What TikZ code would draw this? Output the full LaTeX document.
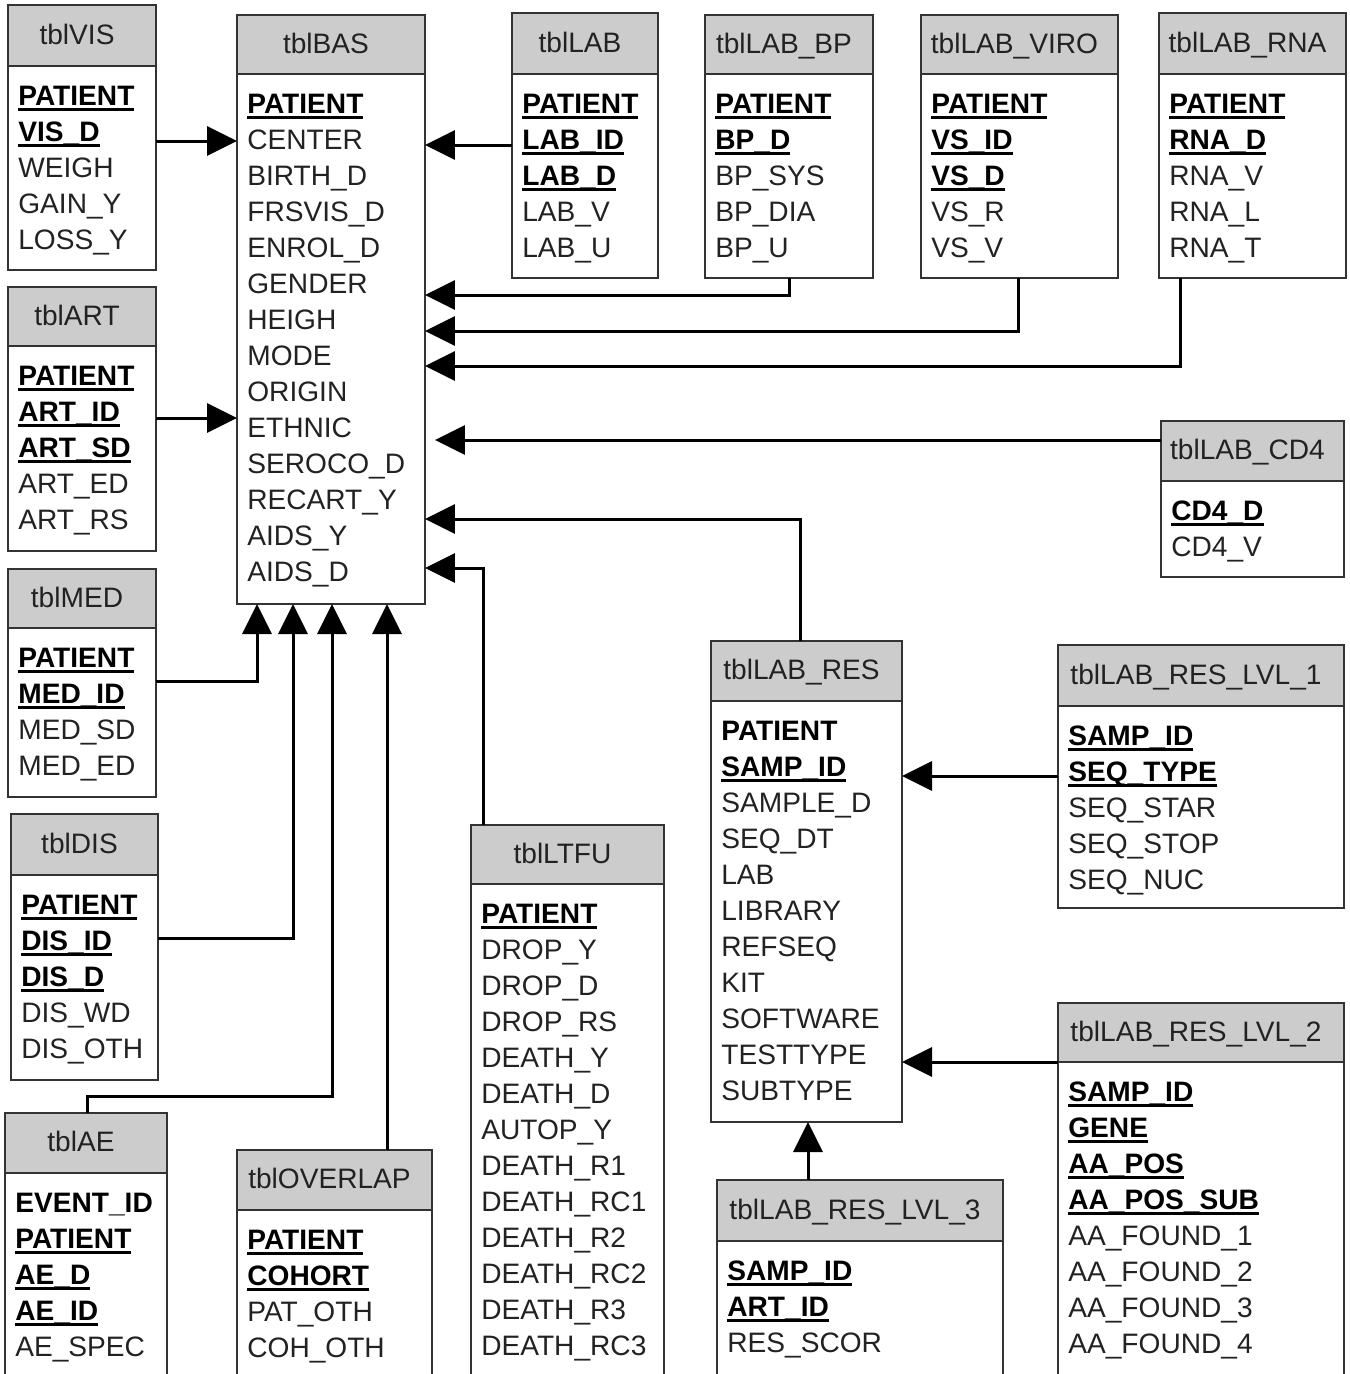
\documentclass[tikz,border=0pt]{standalone}
\usepackage{fontspec}
\setmainfont{Liberation Sans}
\usetikzlibrary{positioning,arrows.meta}
\definecolor{hdrgray}{RGB}{204,204,204}
\definecolor{boxline}{RGB}{51,51,51}
\definecolor{txtgray}{RGB}{34,34,34}
\newcommand{\px}{0.02cm}
\newsavebox{\keybox}
% key field: bold and underlined
\newcommand{\pk}[1]{\leavevmode\sbox{\keybox}{\color{black}\bfseries #1}\rlap{\color{black}\rule[-0.19em]{\wd\keybox}{0.1em}}\usebox{\keybox}}
\newcommand{\bk}[1]{\leavevmode{\color{black}\bfseries #1}}
\tikzset{
  tblhead/.style={draw=boxline, line width=0.04cm, fill=hdrgray, anchor=north west, inner sep=0pt, outer sep=0pt, text=txtgray, font=\fontsize{16}{20.5}\selectfont, text height=11.7pt, text depth=1.7pt, execute at end node={\hspace*{0.2cm}}},
  tblbody/.style={draw=boxline, line width=0.04cm, fill=white, inner sep=0pt, outer sep=0pt},
  fields/.style={anchor=base west, align=left, text width=6cm, inner sep=0pt, text=txtgray, font=\fontsize{16}{20.5}\selectfont, xshift=0.2cm, yshift=-0.79cm},
  fk/.style={line width=0.06cm, -{Triangle[length=0.6cm,width=0.58cm]}}
}

\begin{document}
\begin{tikzpicture}[x=\px, y=-\px]
  \clip (0,0) rectangle (1350,1374);

  % tables
  \node[tblhead, minimum width=148*\px, minimum height=61*\px] (vish) at (8,5) {tblVIS};
  \node[tblbody, minimum width=148*\px, minimum height=204*\px, below=0pt of vish] (vis) {};
  \node[fields] at (vis.north west) {\pk{PATIENT}\\\pk{VIS\_D}\\WEIGH\\GAIN\_Y\\LOSS\_Y};

  \node[tblhead, minimum width=188*\px, minimum height=59*\px] (bash) at (237,15) {tblBAS};
  \node[tblbody, minimum width=188*\px, minimum height=530*\px, below=0pt of bash] (bas) {};
  \node[fields] at (bas.north west) {\pk{PATIENT}\\CENTER\\BIRTH\_D\\FRSVIS\_D\\ENROL\_D\\GENDER\\HEIGH\\MODE\\ORIGIN\\ETHNIC\\SEROCO\_D\\RECART\_Y\\AIDS\_Y\\AIDS\_D};

  \node[tblhead, minimum width=146*\px, minimum height=61*\px] (labh) at (512,13) {tblLAB};
  \node[tblbody, minimum width=146*\px, minimum height=204*\px, below=0pt of labh] (lab) {};
  \node[fields] at (lab.north west) {\pk{PATIENT}\\\pk{LAB\_ID}\\\pk{LAB\_D}\\LAB\_V\\LAB\_U};

  \node[tblhead, minimum width=168*\px, minimum height=59*\px] (bph) at (705,15) {tblLAB\_BP};
  \node[tblbody, minimum width=168*\px, minimum height=204*\px, below=0pt of bph] (bp) {};
  \node[fields] at (bp.north west) {\pk{PATIENT}\\\pk{BP\_D}\\BP\_SYS\\BP\_DIA\\BP\_U};

  \node[tblhead, minimum width=197*\px, minimum height=59*\px] (viroh) at (921,15) {tblLAB\_VIRO};
  \node[tblbody, minimum width=197*\px, minimum height=204*\px, below=0pt of viroh] (viro) {};
  \node[fields] at (viro.north west) {\pk{PATIENT}\\\pk{VS\_ID}\\\pk{VS\_D}\\VS\_R\\VS\_V};

  \node[tblhead, minimum width=187*\px, minimum height=61*\px] (rnah) at (1159,13) {tblLAB\_RNA};
  \node[tblbody, minimum width=187*\px, minimum height=204*\px, below=0pt of rnah] (rna) {};
  \node[fields] at (rna.north west) {\pk{PATIENT}\\\pk{RNA\_D}\\RNA\_V\\RNA\_L\\RNA\_T};

  \node[tblhead, minimum width=148*\px, minimum height=59*\px] (arth) at (8,287) {tblART};
  \node[tblbody, minimum width=148*\px, minimum height=205*\px, below=0pt of arth] (art) {};
  \node[fields] at (art.north west) {\pk{PATIENT}\\\pk{ART\_ID}\\\pk{ART\_SD}\\ART\_ED\\ART\_RS};

  \node[tblhead, minimum width=148*\px, minimum height=59*\px] (medh) at (8,569) {tblMED};
  \node[tblbody, minimum width=148*\px, minimum height=169*\px, below=0pt of medh] (med) {};
  \node[fields] at (med.north west) {\pk{PATIENT}\\\pk{MED\_ID}\\MED\_SD\\MED\_ED};

  \node[tblhead, minimum width=147*\px, minimum height=61*\px] (dish) at (11,814) {tblDIS};
  \node[tblbody, minimum width=147*\px, minimum height=205*\px, below=0pt of dish] (dis) {};
  \node[fields] at (dis.north west) {\pk{PATIENT}\\\pk{DIS\_ID}\\\pk{DIS\_D}\\DIS\_WD\\DIS\_OTH};

  \node[tblhead, minimum width=162*\px, minimum height=60*\px] (aeh) at (5,1113) {tblAE};
  \node[tblbody, minimum width=162*\px, minimum height=240*\px, below=0pt of aeh] (ae) {};
  \node[fields] at (ae.north west) {\bk{EVENT\_ID}\\\pk{PATIENT}\\\pk{AE\_D}\\\pk{AE\_ID}\\AE\_SPEC};

  \node[tblhead, minimum width=195*\px, minimum height=60*\px] (overlaph) at (237,1150) {tblOVERLAP};
  \node[tblbody, minimum width=195*\px, minimum height=240*\px, below=0pt of overlaph] (overlap) {};
  \node[fields] at (overlap.north west) {\pk{PATIENT}\\\pk{COHORT}\\PAT\_OTH\\COH\_OTH};

  \node[tblhead, minimum width=193*\px, minimum height=59*\px] (ltfuh) at (471,825) {tblLTFU};
  \node[tblbody, minimum width=193*\px, minimum height=520*\px, below=0pt of ltfuh] (ltfu) {};
  \node[fields] at (ltfu.north west) {\pk{PATIENT}\\DROP\_Y\\DROP\_D\\DROP\_RS\\DEATH\_Y\\DEATH\_D\\AUTOP\_Y\\DEATH\_R1\\DEATH\_RC1\\DEATH\_R2\\DEATH\_RC2\\DEATH\_R3\\DEATH\_RC3};

  \node[tblhead, minimum width=191*\px, minimum height=60*\px] (resh) at (711,641) {tblLAB\_RES};
  \node[tblbody, minimum width=191*\px, minimum height=421*\px, below=0pt of resh] (res) {};
  \node[fields] at (res.north west) {\bk{PATIENT}\\\pk{SAMP\_ID}\\SAMPLE\_D\\SEQ\_DT\\LAB\\LIBRARY\\REFSEQ\\KIT\\SOFTWARE\\TESTTYPE\\SUBTYPE};

  \node[tblhead, minimum width=286*\px, minimum height=61*\px] (lvl1h) at (1058,645) {tblLAB\_RES\_LVL\_1};
  \node[tblbody, minimum width=286*\px, minimum height=202*\px, below=0pt of lvl1h] (lvl1) {};
  \node[fields] at (lvl1.north west) {\pk{SAMP\_ID}\\\pk{SEQ\_TYPE}\\SEQ\_STAR\\SEQ\_STOP\\SEQ\_NUC};

  \node[tblhead, minimum width=183*\px, minimum height=60*\px] (cd4h) at (1161,421) {tblLAB\_CD4};
  \node[tblbody, minimum width=183*\px, minimum height=96*\px, below=0pt of cd4h] (cd4) {};
  \node[fields] at (cd4.north west) {\pk{CD4\_D}\\CD4\_V};

  \node[tblhead, minimum width=286*\px, minimum height=59*\px] (lvl2h) at (1058,1003) {tblLAB\_RES\_LVL\_2};
  \node[tblbody, minimum width=286*\px, minimum height=400*\px, below=0pt of lvl2h] (lvl2) {};
  \node[fields] at (lvl2.north west) {\pk{SAMP\_ID}\\\pk{GENE}\\\pk{AA\_POS}\\\pk{AA\_POS\_SUB}\\AA\_FOUND\_1\\AA\_FOUND\_2\\AA\_FOUND\_3\\AA\_FOUND\_4};

  \node[tblhead, minimum width=286*\px, minimum height=61*\px] (lvl3h) at (717,1180) {tblLAB\_RES\_LVL\_3};
  \node[tblbody, minimum width=286*\px, minimum height=240*\px, below=0pt of lvl3h] (lvl3) {};
  \node[fields] at (lvl3.north west) {\pk{SAMP\_ID}\\\pk{ART\_ID}\\RES\_SCOR};

  % links to tblBAS
  \draw[fk] (vis.east |- 0,141) -- (bas.west |- 0,141);
  \draw[fk] (art.east |- 0,418) -- (bas.west |- 0,418);
  \draw[fk] (lab.west |- 0,145) -- (bas.east |- 0,145);
  \draw[fk] (bp.south -| 789,0) |- (bas.east |- 0,295);
  \draw[fk] (viro.south -| 1018,0) |- (bas.east |- 0,331);
  \draw[fk] (rna.south -| 1180,0) |- (bas.east |- 0,366);
  \draw[fk, shorten >=0.2cm] (cd4h.west |- 0,440) -- (bas.east |- 0,440);
  \draw[fk] (resh.north -| 800,0) |- (bas.east |- 0,519);
  \draw[fk] (ltfuh.north -| 483,0) |- (bas.east |- 0,568);
  \draw[fk] (med.east |- 0,681) -| (bas.south -| 257,0);
  \draw[fk] (dis.east |- 0,938) -| (bas.south -| 293,0);
  \draw[fk] (aeh.north -| 87,0) |- (332,1096) -- (bas.south -| 332,0);
  \draw[fk] (overlaph.north -| 387,0) -- (bas.south -| 387,0);

  % links to tblLAB_RES
  \draw[fk] (lvl1.west |- 0,776) -- (res.east |- 0,776);
  \draw[fk] (lvl2.north west) -- (res.east |- lvl2.north west);
  \draw[fk] (lvl3h.north -| 808,0) -- (res.south -| 808,0);
\end{tikzpicture}
\end{document}
